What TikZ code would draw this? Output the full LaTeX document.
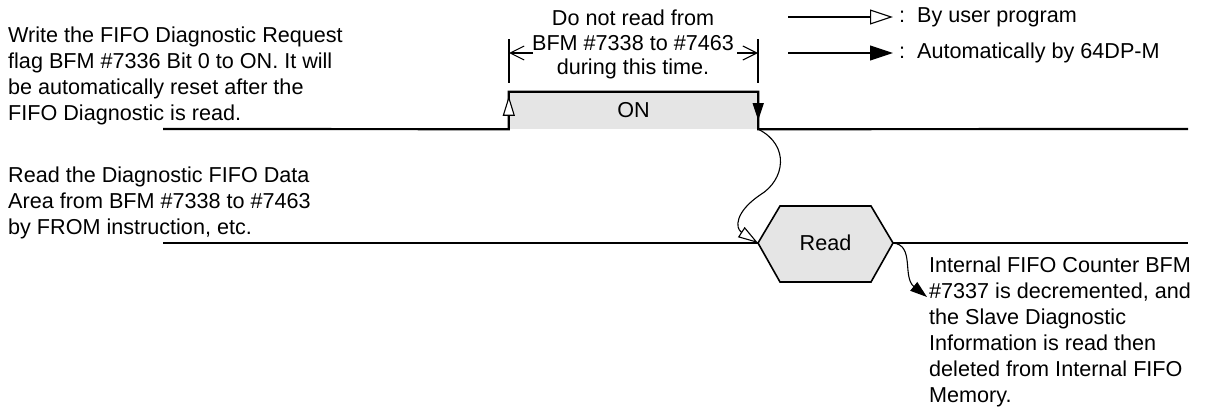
\documentclass[tikz,border=0pt]{standalone}
\usepackage{fontspec}
\setmainfont{Liberation Sans}
\usetikzlibrary{positioning, arrows.meta, calc}

\begin{document}
\begin{tikzpicture}[
    x=1pt, y=-1pt,
    note/.style={align=left, anchor=north west, inner sep=0pt, font=\fontsize{21.6}{26}\selectfont},
    signal/.style={line width=2.2pt},
    thinline/.style={line width=1.1pt},
    pulse/.style={fill=gray!20, minimum width=249pt, minimum height=37pt, inner sep=0pt, font=\fontsize{21.6}{26}\selectfont},
    hexagon/.style={fill=gray!20, draw, line width=1.6pt, line join=miter},
    usertip/.style={thinline, -{Triangle[length=20pt, width=12pt, fill=white]}},
    autotip/.style={thinline, -{Triangle[length=17pt, width=11pt]}},
    userarrow/.style={thinline, -{Triangle[length=23pt, width=15pt, fill=white]}},
    autoarrow/.style={thinline, -{Triangle[length=23pt, width=15pt]}},
    dimarrow/.style={thinline, -{Straight Barb[length=14pt, width=14pt]}}
]
\useasboundingbox (0,0) rectangle (1210,407);

% Nodes
\node (writeNote) [note] at (8,27) {Write the FIFO Diagnostic Request\\flag BFM \#7336 Bit 0 to ON. It will\\be automatically reset after the\\FIFO Diagnostic is read.};
\node (readNote) [note] at (8,167) {Read the Diagnostic FIFO Data\\Area from BFM \#7338 to \#7463\\by FROM instruction, etc.};
\node (counterNote) [note] at (929,257) {Internal FIFO Counter BFM\\\#7337 is decremented, and\\the Slave Diagnostic\\Information is read then\\deleted from Internal FIFO\\Memory.};
\node (dimNote) [note, align=center, anchor=north, font=\fontsize{21.6}{24.5}\selectfont] at (633,10) {Do not read from\\BFM \#7338 to \#7463\\during this time.};

\node (onPulse) [pulse] at (633.5,110.5) {ON};

% Legend
\coordinate (userStart) at (788,17);
\coordinate (userEnd) at (893,17);
\coordinate (autoStart) at (788,53);
\coordinate (autoEnd) at (893,53);
\node (userText) [note, anchor=west] at (899,17) {:\ \ By user program};
\node (autoText) [note, anchor=west] at (899,53) {:\ \ Automatically by 64DP-M};

% Signal lines
\coordinate (sigOneStart) at (163,129);
\coordinate (sigOneEnd) at (1188,129);
\coordinate (sigTwoStart) at (163,243);
\coordinate (sigTwoEnd) at (1188,243);
\coordinate (hexL) at (758,243);
\coordinate (hexR) at (893,243);
\coordinate (wave) at (760,195);
\coordinate (counterTip) at (927,297);
\coordinate (dimL) at (509,53);
\coordinate (dimR) at (758,53);

\draw[signal] (sigOneStart) -- (onPulse.south west) -- (onPulse.north west) -- (onPulse.north east) -- (onPulse.south east) -- (sigOneEnd);
\filldraw[hexagon] (hexL) -- (780,206) -- (871,206) -- (hexR) -- (871,282) -- (780,282) -- cycle;
\node (readBox) [font=\fontsize{21.6}{26}\selectfont] at (825.5,243) {Read};
\draw[signal] (sigTwoStart) -- (hexL);
\draw[signal] (hexR) -- (sigTwoEnd);

% Dimension
\draw[thinline] (509,39) -- (509,83);
\draw[thinline] (758,39) -- (758,83);
\draw[dimarrow] ($(dimL)+(24,0)$) -- (dimL);
\draw[dimarrow] ($(dimR)+(-21,0)$) -- (dimR);

% Connections
\draw[usertip] (onPulse.south west) -- ($(onPulse.north west)+(0,4)$);
\draw[autotip] (onPulse.north east) -- ($(onPulse.south east)+(0,-9)$);
\draw[usertip] (onPulse.south east) .. controls +(32,16) and +(25,-15) .. (wave) .. controls +(-25,17) and +(-23,-15) .. (hexL);
\draw[autotip] (hexR) .. controls +(22,2) and +(-25,-20) .. (counterTip);
\draw[userarrow] (userStart) -- (userEnd);
\draw[autoarrow] (autoStart) -- (autoEnd);

\end{tikzpicture}
\end{document}
